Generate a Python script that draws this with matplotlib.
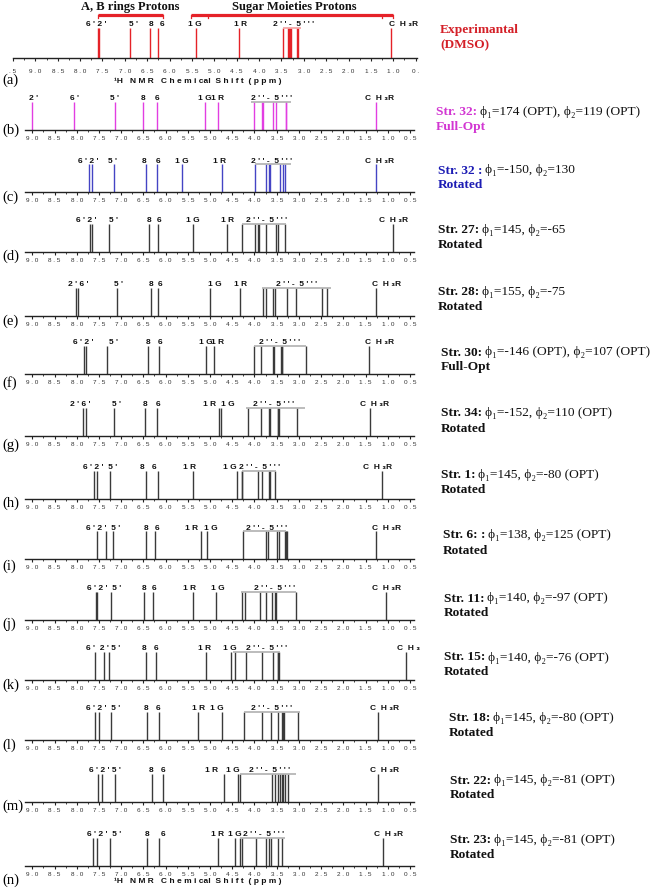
import numpy as np
import matplotlib
matplotlib.use('Agg')
import matplotlib.pyplot as plt

# ---- data (ppm) ----
panels = ['a', 'b', 'c', 'd', 'e', 'f', 'g', 'h', 'i', 'j', 'k', 'l', 'm', 'n']

peaks_a = [7.60, 7.58, 6.89, 6.44, 6.26, 5.41, 4.44, 3.46, 3.35, 3.32, 3.30, 3.28, 3.16, 3.13, 1.06]
peaks_b = [9.00, 8.06, 7.14, 6.50, 6.20, 5.12, 4.83, 4.01, 3.83, 3.81, 3.58, 3.51, 3.30, 3.28, 1.27]
peaks_c = [7.73, 7.65, 7.16, 6.45, 6.19, 5.63, 4.74, 3.99, 3.73, 3.68, 3.64, 3.43, 3.36, 3.32, 1.26]
peaks_d = [7.69, 7.66, 7.28, 6.38, 6.16, 5.38, 4.61, 4.28, 3.98, 3.93, 3.90, 3.73, 3.51, 3.48, 3.32, 0.88]
peaks_e = [8.02, 7.97, 7.10, 6.33, 6.17, 4.99, 4.33, 3.81, 3.73, 3.58, 3.53, 3.27, 3.06, 2.47, 2.37, 1.26]
peaks_f = [7.83, 7.79, 7.31, 6.39, 6.15, 5.09, 4.91, 4.01, 3.86, 3.58, 3.56, 3.41, 3.39, 3.37, 2.85, 1.43]
peaks_g = [7.87, 7.79, 7.16, 6.47, 6.19, 4.80, 4.76, 4.14, 3.86, 3.67, 3.66, 3.48, 3.47, 3.45, 3.04, 1.39]
peaks_h = [7.61, 7.55, 7.24, 6.43, 6.18, 5.39, 4.39, 4.29, 4.27, 3.91, 3.82, 3.67, 3.64, 3.54, 1.14]
peaks_i = [7.54, 7.34, 7.19, 6.45, 6.24, 5.21, 5.06, 4.25, 3.73, 3.69, 3.49, 3.45, 3.32, 3.30, 3.27, 1.26]
peaks_j = [7.57, 7.55, 7.22, 6.49, 6.28, 5.39, 4.87, 4.28, 4.22, 3.88, 3.73, 3.60, 3.54, 3.51, 3.07, 1.05]
peaks_k = [7.58, 7.38, 7.27, 6.44, 6.22, 5.08, 4.52, 4.44, 4.18, 3.84, 3.58, 3.48, 3.47, 3.45, 0.58]
peaks_l = [7.59, 7.49, 7.22, 6.41, 6.14, 5.27, 4.74, 4.23, 3.84, 3.62, 3.47, 3.38, 3.36, 3.33, 3.02, 1.22]
peaks_m = [7.53, 7.42, 7.14, 6.30, 6.05, 4.68, 4.38, 4.33, 3.60, 3.54, 3.48, 3.43, 3.37, 3.35, 3.32, 3.24, 1.23]
peaks_n = [7.63, 7.55, 7.25, 6.41, 6.14, 4.82, 4.44, 4.33, 4.27, 3.97, 3.73, 3.67, 3.62, 3.48, 3.39, 1.11]

SUG = "2 ' ' -  5 ' ' '"
CH3 = "C  H ₃R"
lab_a = ["6 ' 2 '", "5 '", "8", "6", "1 G", "1 R", SUG, CH3]
lab_b = ["2 '", "6 '", "5 '", "8", "6", "1 G", "1 R", SUG, CH3]
lab_c = ["6 ' 2 '", "5 '", "8", "6", "1 G", "1 R", SUG, CH3]
lab_d = ["6 ' 2 '", "5 '", "8", "6", "1 G", "1 R", SUG, CH3]
lab_e = ["2 ' 6 '", "5 '", "8", "6", "1 G", "1 R", SUG, CH3]
lab_f = ["6 ' 2 '", "5 '", "8", "6", "1 G", "1 R", SUG, CH3]
lab_g = ["2 ' 6 '", "5 '", "8", "6", "1 R", "1 G", SUG, CH3]
lab_h = ["6 ' 2 '  5 '", "8", "6", "1 R", "1 G", SUG, CH3]
lab_i = ["6 ' 2 '  5 '", "8", "6", "1 R", "1 G", SUG, CH3]
lab_j = ["6 ' 2 '  5 '", "8", "6", "1 R", "1 G", SUG, CH3]
lab_k = ["6 '  2 ' 5 '", "8", "6", "1 R", "1 G", SUG, "C  H ₃"]
lab_l = ["6 ' 2 '  5 '", "8", "6", "1 R", "1 G", SUG, CH3]
lab_m = ["6 ' 2 ' 5 '", "8", "6", "1 R", "1 G", SUG, CH3]
lab_n = ["6 ' 2 '  5 '", "8", "6", "1 R", "1 G", SUG, CH3]

at_a = [7.63, 6.81, 6.41, 6.16, 5.44, 4.41, 3.22, 0.78]
at_b = [8.98, 8.04, 7.14, 6.50, 6.20, 5.12, 4.82, 3.62, 1.18]
at_c = [7.73, 7.20, 6.49, 6.17, 5.64, 4.78, 3.62, 1.18]
at_d = [7.78, 7.18, 6.38, 6.15, 5.38, 4.61, 3.73, 0.88]
at_e = [7.97, 7.07, 6.33, 6.13, 4.89, 4.31, 3.06, 1.03]
at_f = [7.85, 7.18, 6.39, 6.13, 5.09, 4.82, 3.43, 1.18]
at_g = [7.91, 7.10, 6.47, 6.18, 5.02, 4.59, 3.58, 1.29]
at_h = [7.48, 6.54, 6.26, 5.47, 4.55, 3.88, 1.22]
at_i = [7.40, 6.45, 6.20, 5.42, 4.98, 3.73, 1.03]
at_j = [7.39, 6.49, 6.26, 5.47, 4.82, 3.54, 1.03]
at_k = [7.40, 6.49, 6.22, 5.12, 4.55, 3.73, 0.53]
at_l = [7.40, 6.43, 6.17, 5.25, 4.84, 3.62, 1.07]
at_m = [7.37, 6.33, 6.05, 4.97, 4.48, 3.66, 1.07]
at_n = [7.39, 6.41, 6.05, 4.82, 4.44, 3.80, 0.99]

# grey bracket over the 2''-5''' group (start, end ppm)
brk_a = (3.46, 3.07)
brk_b = (4.07, 3.17)
brk_c = (3.99, 3.17)
brk_d = (4.28, 3.28)
brk_e = (3.84, 2.27)
brk_f = (4.01, 2.85)
brk_g = (4.18, 2.87)
brk_h = (4.29, 3.51)
brk_i = (4.25, 3.28)
brk_j = (4.31, 3.06)
brk_k = (4.48, 3.43)
brk_l = (4.23, 2.98)
brk_m = (4.33, 3.06)
brk_n = (4.33, 3.32)

str_names = ["Str. 32:", "Str. 32 :", "Str. 27:", "Str. 28:", "Str. 30:", "Str. 34:", "Str. 1:",
             "Str. 6: :", "Str. 11:", "Str. 15:", "Str. 18:", "Str. 22:", "Str. 23:"]
angles = ["ϕ₁=174 (OPT), ϕ₂=119 (OPT)", "ϕ₁=-150, ϕ₂=130", "ϕ₁=145, ϕ₂=-65", "ϕ₁=155, ϕ₂=-75",
          "ϕ₁=-146 (OPT), ϕ₂=107 (OPT)", "ϕ₁=-152, ϕ₂=110 (OPT)", "ϕ₁=145, ϕ₂=-80 (OPT)",
          "ϕ₁=138, ϕ₂=125 (OPT)", "ϕ₁=140, ϕ₂=-97 (OPT)", "ϕ₁=140, ϕ₂=-76 (OPT)",
          "ϕ₁=145, ϕ₂=-80 (OPT)", "ϕ₁=145, ϕ₂=-81 (OPT)", "ϕ₁=145, ϕ₂=-81 (OPT)"]
kinds = ["Full-Opt", "Rotated", "Rotated", "Rotated", "Full-Opt", "Rotated", "Rotated",
         "Rotated", "Rotated", "Rotated", "Rotated", "Rotated", "Rotated"]

peaks = [peaks_a, peaks_b, peaks_c, peaks_d, peaks_e, peaks_f, peaks_g,
         peaks_h, peaks_i, peaks_j, peaks_k, peaks_l, peaks_m, peaks_n]
labels = [lab_a, lab_b, lab_c, lab_d, lab_e, lab_f, lab_g, lab_h, lab_i, lab_j, lab_k, lab_l, lab_m, lab_n]
label_at = [at_a, at_b, at_c, at_d, at_e, at_f, at_g, at_h, at_i, at_j, at_k, at_l, at_m, at_n]
brackets = [brk_a, brk_b, brk_c, brk_d, brk_e, brk_f, brk_g, brk_h, brk_i, brk_j, brk_k, brk_l, brk_m, brk_n]

# ---- layout (pixels) ----
W, H = 651, 895
axis_y = [59, 131, 193, 253, 317, 375, 437, 500, 560, 621, 681, 741, 803, 867]
tag_y = [80, 130, 197, 256, 321, 383, 445, 503, 566, 624, 685, 745, 806, 880]
txt_x = [440, 436, 438, 438, 438, 441, 441, 441, 443, 444, 444, 449, 450, 450]
txt_y = [30, 112, 170, 230, 292, 352, 413, 475, 535, 598, 657, 718, 780, 840]
colors = ['#e52228', '#e23ee2'] + ['#4444c4'] + ['#3a3a3a'] * 11

SERIF = ['Liberation Serif', 'DejaVu Serif']
SANS = ['Liberation Sans', 'DejaVu Sans']
FS = 9.6

fig = plt.figure(figsize=(W / 100, H / 100), dpi=100)

def fy(py):
    return 1 - py / H

def fx(px):
    return px / W

def tick_text(v, first):
    s = f"{v:.1f}".replace('.', ' . ')
    if first and v == 9.5:
        return ". 5"
    if first and v == 0.5:
        return "0 ."
    return s

AH = 42
for k, tag in enumerate(panels):
    if k == 0:
        left, right, x0, x1 = 13, 417, 9.45, 0.47
        ticks = np.arange(0.5, 9.51, 0.5)
        hgt, loff = 30, 35
    else:
        left, right, x0, x1 = 25, 414, 9.164, 0.41
        ticks = np.arange(0.5, 9.01, 0.5)
        hgt, loff = 28, 32
    ax = fig.add_axes([fx(left), fy(axis_y[k]), fx(right - left), AH / H])
    ax.set_xlim(x0, x1)
    ax.set_ylim(0, AH)
    for s in ['top', 'left', 'right']:
        ax.spines[s].set_visible(False)
    ax.spines['bottom'].set_linewidth(1.0)
    ax.spines['bottom'].set_color('#222222')
    ax.set_yticks([])
    ax.set_xticks(ticks)
    ax.set_xticks(ticks[:-1] + 0.25, minor=True)
    ax.set_xticklabels([tick_text(v, k == 0) for v in ticks],
                       fontsize=4.6, family=SANS, color='#333333')
    ax.tick_params(axis='x', which='major', direction='out', length=2.5, width=0.8,
                   pad=1.2 if k else 5, color='#222222')
    ax.tick_params(axis='x', which='minor', direction='out', length=1.5, width=0.6, color='#222222')
    ax.patch.set_alpha(0)

    c = colors[k]
    ax.vlines(peaks[k], 0, hgt, color=c, lw=1.0)
    b0, b1 = brackets[k]
    bc = '#f4a0a0' if k == 0 else '#b0b0b0'
    ax.plot([b0, b1], [hgt, hgt], color=bc, lw=1.2, solid_capstyle='butt')
    for t, p in zip(labels[k], label_at[k]):
        ax.text(p, loff, t, ha='center', va='center', fontsize=6.0, fontweight='bold',
                family=SANS, color='#111111', clip_on=False)

    if k == 0:
        # header brackets
        rc = '#e52228'
        ax.plot([7.59, 6.15], [43, 43], color=rc, lw=2.3, clip_on=False, solid_capstyle='butt')
        ax.plot([5.52, 1.0], [43, 43], color=rc, lw=2.3, clip_on=False, solid_capstyle='butt')
        for xe in [7.59, 6.15, 5.52, 5.15, 1.25, 1.0]:
            ax.plot([xe, xe], [43, 40.5], color=rc, lw=0.9, clip_on=False)
        ax.text(6.89, 52, "A, B rings Protons", ha='center', va='center', fontsize=9,
                fontweight='bold', family=SERIF, color='#111111')
        ax.text(3.22, 52, "Sugar Moieties Protons", ha='center', va='center', fontsize=9,
                fontweight='bold', family=SERIF, color='#111111')

    fig.text(fx(2), fy(tag_y[k]), f"({tag})", fontsize=10.5, family=SERIF, va='center', ha='left')

# x-axis titles
for py in [81, 881]:
    fig.text(fx(198), fy(py), "¹H   N M R   C h e m i cal  S h i f t  ( p p m )", ha='center',
             va='center', fontsize=6.0, fontweight='bold', family=SANS, color='#111111')

# right hand annotations
fig.text(fx(txt_x[0]), fy(txt_y[0]), "Experimantal", color='#d42028', fontsize=FS,
         fontweight='bold', family=SERIF, va='center')
fig.text(fx(txt_x[0]), fy(txt_y[0] + 15.5), "(DMSO)", color='#d42028', fontsize=FS,
         fontweight='bold', family=SERIF, va='center')

renderer = fig.canvas.get_renderer()
for j in range(13):
    k = j + 1
    pc = '#d236d2' if k == 1 else ('#1c1cb4' if k == 2 else '#111111')
    base = fy(txt_y[k] + 3.5)
    t1 = fig.text(fx(txt_x[k]), base, str_names[j], color=pc, fontsize=FS, fontweight='bold',
                  family=SERIF, va='baseline')
    bb = t1.get_window_extent(renderer)
    fig.text(bb.x1 / W + fx(2.5), base, angles[j], color='#111111', fontsize=FS,
             family=SERIF, va='baseline')
    fig.text(fx(txt_x[k]), fy(txt_y[k] + 15.5), kinds[j], color=pc, fontsize=FS,
             fontweight='bold', family=SERIF, va='center')

fig.savefig('out.png', dpi=100)
